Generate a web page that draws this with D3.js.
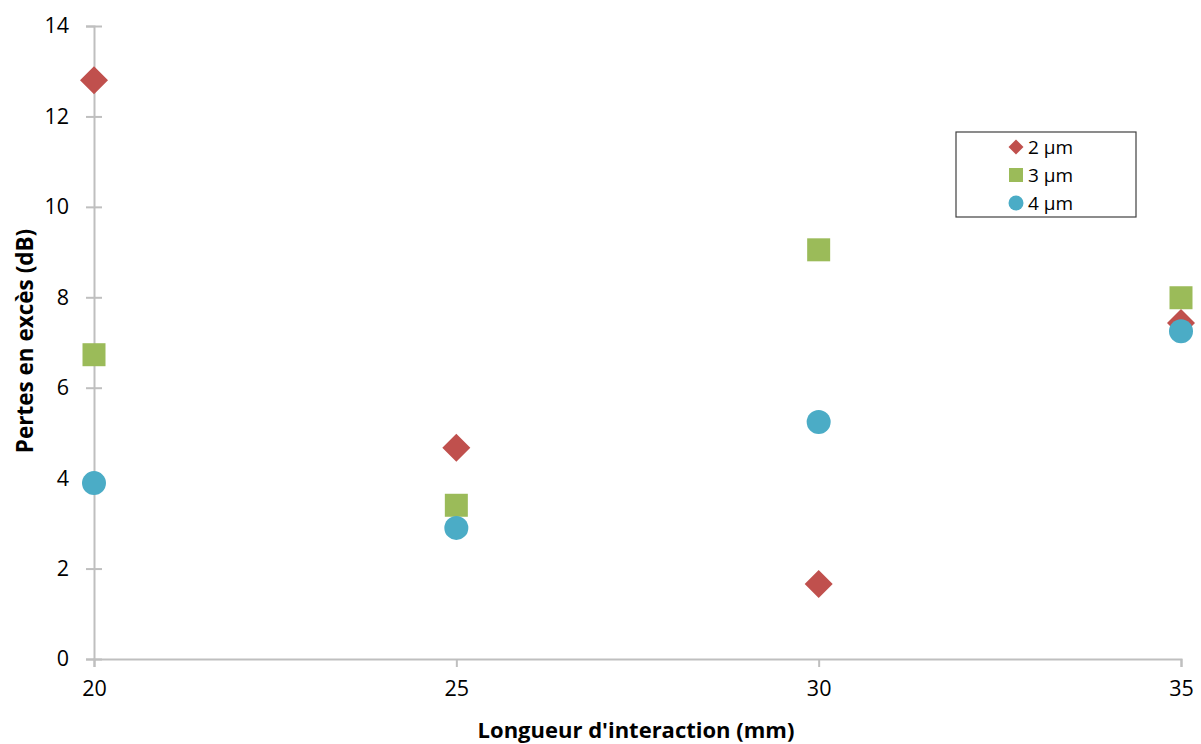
<!DOCTYPE html>
<html><head><meta charset="utf-8">
<script src="https://cdn.jsdelivr.net/npm/d3@7"></script>
<style>body{margin:0;background:#fff}svg{display:block}text{font-family:"Open Sans",sans-serif}</style>
</head><body><svg id="c" width="1201" height="744"></svg>
<script>
const xValues = [20, 25, 30, 35];
const series2um = [12.8, 4.67, 1.66, 7.43];
const series3um = [6.73, 3.40, 9.05, 7.99];
const series4um = [3.89, 2.90, 5.24, 7.25];
const seriesNames = ["2 µm", "3 µm", "4 µm"];
const xTicks = [20, 25, 30, 35];
const yTicks = [0, 2, 4, 6, 8, 10, 12, 14];

const svg = d3.select("#c");
const x = d3.scaleLinear().domain([20, 35]).range([94, 1181]);
const y = d3.scaleLinear().domain([0, 14]).range([659, 26]);
const axisColor = "#BFBFBF";

// y axis
const ya = svg.append("g").attr("transform", "translate(94,0)")
  .call(d3.axisLeft(y).tickValues(yTicks).tickSize(8).tickPadding(17).tickFormat(d3.format("d")));
ya.select(".domain").attr("stroke", axisColor).attr("stroke-width", 2);
ya.selectAll(".tick line").attr("stroke", axisColor).attr("stroke-width", 2).attr("x1", 8).attr("x2", -8);
ya.selectAll(".tick text").attr("font-size", 21.5).attr("fill", "#000").attr("font-family", "Open Sans");

// x axis
const xa = svg.append("g").attr("transform", "translate(0,659)")
  .call(d3.axisBottom(x).tickValues(xTicks).tickSize(8).tickPadding(14).tickFormat(d3.format("d")));
xa.select(".domain").attr("stroke", axisColor).attr("stroke-width", 2);
xa.selectAll(".tick line").attr("stroke", axisColor).attr("stroke-width", 2);
xa.selectAll(".tick text").attr("font-size", 21.5).attr("fill", "#000").attr("font-family", "Open Sans");

// axis titles
svg.append("text").attr("x", 636).attr("y", 738).attr("text-anchor", "middle")
  .attr("font-size", 22).attr("font-weight", "bold").text("Longueur d'interaction (mm)");
svg.append("text").attr("transform", "translate(33,341) rotate(-90)").attr("text-anchor", "middle")
  .attr("font-size", 22.5).attr("font-weight", "bold").text("Pertes en excès (dB)");

const colors = ["#C0504D", "#9BBB59", "#4BACC6"];
const data = [series2um, series3um, series4um];
const symbolFor = (i, px) => {
  if (i === 0) {
    const h = px / 2;
    return `M0,${-h}L${h},0L0,${h}L${-h},0Z`;
  } else if (i === 1) {
    const h = px / 2;
    return `M${-h},${-h}H${h}V${h}H${-h}Z`;
  } else {
    return d3.symbol(d3.symbolCircle, Math.PI * (px / 2) * (px / 2))();
  }
};
const bigSizes = [28, 23, 24];

data.forEach((vals, i) => {
  svg.append("g").selectAll("path").data(vals).join("path")
    .attr("d", symbolFor(i, bigSizes[i]))
    .attr("transform", (d, j) => `translate(${x(xValues[j])},${y(d)})`)
    .attr("fill", colors[i]);
});

// legend
const lg = svg.append("g");
lg.append("rect").attr("x", 956).attr("y", 132).attr("width", 180).attr("height", 85)
  .attr("fill", "#fff").attr("stroke", "#404040").attr("stroke-width", 1.2);
const smallSizes = [15, 14, 15];
seriesNames.forEach((n, i) => {
  const cy = 147 + i * 28;
  lg.append("path").attr("d", symbolFor(i, smallSizes[i])).attr("transform", `translate(1016,${cy})`).attr("fill", colors[i]);
  lg.append("text").attr("x", 1028).attr("y", cy).attr("dy", "0.35em").attr("font-size", 19).text(n);
});
</script></body></html>
